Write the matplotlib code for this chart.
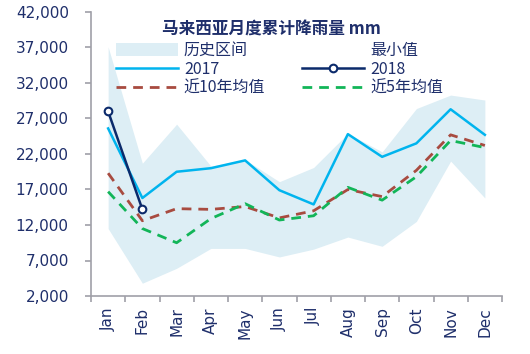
import matplotlib
matplotlib.use("Agg")
import matplotlib.pyplot as plt
from matplotlib.patches import Patch
from matplotlib.lines import Line2D
import numpy as np

plt.rcParams['font.family'] = ['Noto Sans CJK SC', 'DejaVu Sans']

months = ["Jan", "Feb", "Mar", "Apr", "May", "Jun", "Jul", "Aug", "Sep", "Oct", "Nov", "Dec"]
hist_max = [37100, 20700, 26200, 20300, 21200, 18100, 20100, 24900, 22300, 28400, 30300, 29600]
hist_min = [11500, 3800, 5900, 8700, 8700, 7500, 8600, 10300, 9000, 12500, 21000, 15800]
y2017 = [25600, 15800, 19500, 20000, 21100, 16900, 14900, 24800, 21600, 23500, 28300, 24700]
y2018 = [28000, 14200]
avg10 = [19300, 12600, 14300, 14200, 14600, 13000, 14000, 17000, 16000, 19700, 24700, 23200]
avg5 = [16700, 11500, 9500, 12900, 15000, 12700, 13300, 17300, 15500, 18800, 23900, 22900]
yticks = [2000, 7000, 12000, 17000, 22000, 27000, 32000, 37000, 42000]

title = "马来西亚月度累计降雨量 mm"
labels = ["历史区间", "2017", "近10年均值", "最小值", "2018", "近5年均值"]

navy_text = "#1F2F6B"
c_band = "#DDEEF5"
c_2017 = "#00B4EE"
c_2018 = "#0B2A6B"
c_10 = "#A84B40"
c_5 = "#12B558"

fig = plt.figure(figsize=(5.30, 3.54), dpi=100)
ax = fig.add_axes([91/530, 1-296/354, (502-91)/530, (296-12)/354])

x = np.arange(len(months))
ax.fill_between(x, hist_min, hist_max, color=c_band, lw=0, zorder=1)
ax.plot(x, y2017, color=c_2017, lw=1.8, zorder=3)
ax.plot(x, avg10, color=c_10, lw=2.0, dashes=(3.5, 2.5), zorder=4)
ax.plot(x, avg5, color=c_5, lw=2.0, dashes=(3.5, 2.5), zorder=4)
ax.plot(x[:len(y2018)], y2018, color=c_2018, lw=1.8, marker='o', ms=5.5,
        mfc='white', mec=c_2018, mew=1.5, zorder=5)

ax.set_xlim(-0.5, len(months) - 0.5)
ax.set_ylim(2000, 42000)
ax.set_yticks(yticks)
ax.set_yticklabels([f"{v:,}" for v in yticks], fontsize=11, color=navy_text,
                   family=['DejaVu Sans'])
ax.set_xticks(x)
ax.set_xticklabels(months, rotation=90, fontsize=11, color=navy_text,
                   family=['DejaVu Sans'])
ax.set_xticks(np.arange(-0.5, len(months)), minor=True)
ax.tick_params(axis='x', which='major', length=0, pad=8)
ax.tick_params(axis='x', which='minor', length=4, color="#A0A0A8", width=1.2)
ax.tick_params(axis='y', length=4, color="#A0A0A8", width=1.2, pad=12)
for s in ["top", "right"]:
    ax.spines[s].set_visible(False)
for s in ["left", "bottom"]:
    ax.spines[s].set_color("#A0A0A8")
    ax.spines[s].set_linewidth(1.2)

ax.text(0.44, 0.937, title, transform=ax.transAxes, ha='center', va='center',
        fontsize=12, fontweight='bold', color=navy_text)

handles = [
    Patch(facecolor=c_band, edgecolor='none'),
    Line2D([], [], color=c_2017, lw=1.8),
    Line2D([], [], color=c_10, lw=2.0, dashes=(3.5, 2.5)),
    Patch(facecolor='white', edgecolor='none'),
    Line2D([], [], color=c_2018, lw=1.8, marker='o', ms=5.5, mfc='white', mec=c_2018, mew=1.5),
    Line2D([], [], color=c_5, lw=2.0, dashes=(3.5, 2.5)),
]
leg = fig.legend(handles, labels, ncol=2, loc='upper left',
                 bbox_to_anchor=(116/530, 1-42/354), frameon=False,
                 fontsize=11.5, handlelength=3.9, handleheight=0.9,
                 handletextpad=0.35, columnspacing=2.3, labelspacing=0.12,
                 borderpad=0, borderaxespad=0)
for t in leg.get_texts():
    t.set_color(navy_text)

fig.savefig("out.png", dpi=100)
